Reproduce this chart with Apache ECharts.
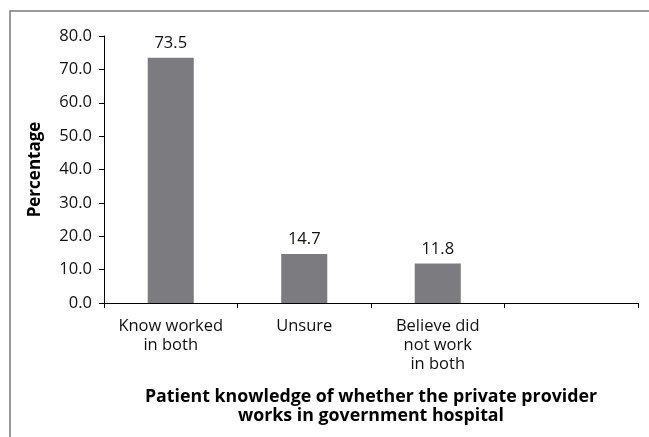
<!DOCTYPE html>
<html>
<head>
<meta charset="utf-8">
<script src="https://cdn.jsdelivr.net/npm/echarts@6/dist/echarts.min.js"></script>
<style>
html,body{margin:0;padding:0;background:#fff;}
#chart{width:649px;height:437px;}
</style>
</head>
<body>
<div id="chart"></div>
<script>
var categories = ['Know worked\nin both', 'Unsure', 'Believe did\nnot work\nin both', ''];
var values = [73.5, 14.7, 11.8, null];
var yTicks = {min: 0, max: 80, interval: 10};
var yAxisTitle = 'Percentage';
var xAxisTitle = 'Patient knowledge of whether the private provider\nworks in government hospital';

var FONT = '"Open Sans", sans-serif';
var chart = echarts.init(document.getElementById('chart'), null, {renderer: 'canvas'});
chart.setOption({
  animation: false,
  backgroundColor: '#fff',
  graphic: [{
    type: 'rect',
    shape: {x: 10, y: 11, width: 700, height: 500},
    style: {fill: 'none', stroke: '#7a7a7a', lineWidth: 1.5},
    silent: true
  }],
  grid: {left: 104, right: 11, top: 36, bottom: 134, containLabel: false},
  xAxis: {
    type: 'category',
    data: categories,
    boundaryGap: true,
    axisLine: {show: true, lineStyle: {color: '#000', width: 1}},
    axisTick: {show: true, length: 5, alignWithLabel: false, interval: 0, lineStyle: {color: '#000'}},
    axisLabel: {interval: 0, color: '#111', fontFamily: FONT, fontSize: 16.5, lineHeight: 19, margin: 14},
    name: xAxisTitle,
    nameLocation: 'middle',
    nameGap: 85,
    nameTextStyle: {color: '#000', fontFamily: FONT, fontSize: 17.8, fontWeight: 'bold', lineHeight: 18.5}
  },
  yAxis: {
    type: 'value',
    min: yTicks.min, max: yTicks.max, interval: yTicks.interval,
    axisLine: {show: true, lineStyle: {color: '#000', width: 1}},
    axisTick: {show: true, length: 5, lineStyle: {color: '#000'}},
    splitLine: {show: false},
    axisLabel: {color: '#111', fontFamily: FONT, fontSize: 16.5, margin: 12,
      formatter: function (v) { return v.toFixed(1); }},
    name: yAxisTitle,
    nameLocation: 'middle',
    nameGap: 60,
    nameRotate: 90,
    nameTextStyle: {color: '#000', fontFamily: FONT, fontSize: 17, fontWeight: 'bold'}
  },
  series: [{
    type: 'bar',
    data: values,
    barWidth: '34.5%',
    itemStyle: {color: '#7c7c80'},
    label: {show: true, position: 'top', distance: 6, color: '#111', fontFamily: FONT, fontSize: 16.5,
      formatter: function (p) { return p.value == null ? '' : p.value.toFixed(1); }}
  }]
});
</script>
</body>
</html>
